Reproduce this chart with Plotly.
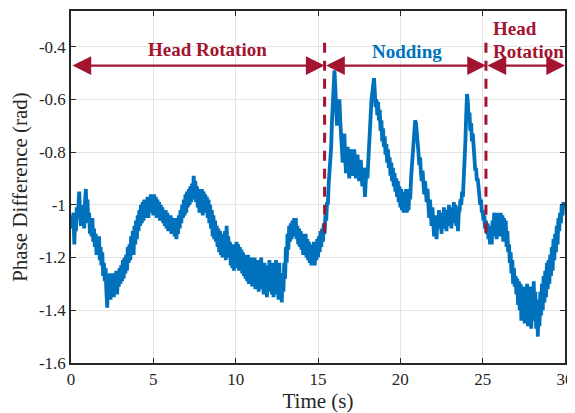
import plotly.graph_objects as go

# Time axis (s), sampled every 0.05 s, 0..30
time_s = [round(i * 0.05, 2) for i in range(601)]

# Phase difference (rad) (one row per second)
phase_rad = [
    -1.07, -1.04, -1.09, -1.03, -1.15, -1.06, -1.10, -1.01, -1.05, -0.97, -0.95, -1.03, -1.08, -1.00, -1.06, -1.02, -1.09, -0.99, -0.94, -1.02,
    -0.98, -1.07, -1.03, -1.11, -1.06, -1.12, -1.05, -1.14, -1.09, -1.16, -1.11, -1.19, -1.13, -1.18, -1.12, -1.21, -1.16, -1.23, -1.18, -1.27,
    -1.22, -1.29, -1.24, -1.33, -1.39, -1.27, -1.34, -1.26, -1.36, -1.28, -1.33, -1.26, -1.35, -1.29, -1.32, -1.25, -1.34, -1.27, -1.31, -1.24,
    -1.30, -1.23, -1.29, -1.21, -1.28, -1.20, -1.26, -1.19, -1.25, -1.16, -1.22, -1.15, -1.21, -1.12, -1.18, -1.10, -1.19, -1.08, -1.15, -1.06,
    -1.13, -1.04, -1.10, -1.02, -1.08, -1.00, -1.07, -0.99, -1.06, -0.98, -1.05, -0.99, -1.04, -0.97, -1.05, -0.98, -1.03, -0.96, -1.02, -0.97,
    -1.04, -0.96, -1.02, -0.97, -1.05, -0.98, -1.04, -0.99, -1.06, -1.00, -1.05, -1.01, -1.07, -1.02, -1.08, -1.02, -1.09, -1.03, -1.10, -1.04,
    -1.09, -1.04, -1.11, -1.05, -1.10, -1.06, -1.12, -1.05, -1.13, -1.06, -1.11, -1.04, -1.09, -1.02, -1.07, -1.00, -1.05, -0.98, -1.04, -0.96,
    -1.03, -0.95, -1.01, -0.94, -1.00, -0.93, -0.99, -0.92, -0.98, -0.89, -0.96, -0.91, -0.99, -0.93, -1.01, -0.94, -1.03, -0.95, -1.02, -0.94,
    -1.04, -0.95, -1.02, -0.96, -1.03, -0.97, -1.05, -0.98, -1.07, -1.00, -1.09, -1.02, -1.12, -1.04, -1.13, -1.06, -1.14, -1.08, -1.16, -1.09,
    -1.18, -1.10, -1.19, -1.11, -1.20, -1.12, -1.19, -1.10, -1.21, -1.08, -1.17, -1.12, -1.20, -1.14, -1.23, -1.15, -1.24, -1.16, -1.25, -1.15,
    -1.24, -1.14, -1.22, -1.15, -1.25, -1.16, -1.24, -1.17, -1.26, -1.18, -1.27, -1.19, -1.28, -1.20, -1.29, -1.19, -1.30, -1.21, -1.29, -1.20,
    -1.31, -1.21, -1.29, -1.20, -1.32, -1.22, -1.30, -1.21, -1.33, -1.22, -1.31, -1.20, -1.32, -1.23, -1.34, -1.22, -1.33, -1.24, -1.35, -1.23,
    -1.33, -1.21, -1.32, -1.23, -1.34, -1.22, -1.35, -1.24, -1.33, -1.21, -1.34, -1.23, -1.36, -1.22, -1.35, -1.27, -1.37, -1.26, -1.33, -1.22,
    -1.28, -1.16, -1.22, -1.11, -1.17, -1.08, -1.14, -1.07, -1.13, -1.06, -1.12, -1.05, -1.11, -1.05, -1.13, -1.08, -1.15, -1.09, -1.16, -1.10,
    -1.17, -1.11, -1.19, -1.12, -1.18, -1.11, -1.20, -1.13, -1.21, -1.14, -1.22, -1.15, -1.23, -1.16, -1.22, -1.14, -1.23, -1.15, -1.21, -1.13,
    -1.20, -1.12, -1.18, -1.10, -1.16, -1.09, -1.14, -1.07, -1.11, -1.04, -1.06, -0.99, -1.00, -0.92, -0.88, -0.80, -0.78, -0.68, -0.60, -0.52,
    -0.49, -0.55, -0.64, -0.70, -0.66, -0.61, -0.60, -0.68, -0.72, -0.78, -0.84, -0.76, -0.73, -0.82, -0.88, -0.80, -0.78, -0.86, -0.90, -0.82,
    -0.79, -0.87, -0.89, -0.81, -0.79, -0.86, -0.90, -0.83, -0.81, -0.88, -0.91, -0.84, -0.83, -0.90, -0.93, -0.86, -0.88, -0.97, -0.93, -0.86,
    -0.90, -0.82, -0.78, -0.70, -0.66, -0.60, -0.56, -0.53, -0.52, -0.57, -0.63, -0.60, -0.66, -0.61, -0.68, -0.64, -0.72, -0.68, -0.76, -0.71,
    -0.78, -0.74, -0.81, -0.77, -0.84, -0.79, -0.86, -0.82, -0.89, -0.84, -0.91, -0.86, -0.93, -0.88, -0.95, -0.90, -0.97, -0.91, -0.99, -0.93,
    -1.01, -0.94, -1.02, -0.95, -1.03, -0.96, -1.02, -0.94, -1.03, -0.95, -1.02, -0.94, -0.98, -0.90, -0.86, -0.80, -0.75, -0.70, -0.68, -0.69,
    -0.72, -0.78, -0.80, -0.85, -0.82, -0.88, -0.91, -0.87, -0.93, -0.96, -0.91, -0.97, -0.99, -0.94, -1.01, -1.05, -0.98, -1.04, -1.08, -1.01,
    -1.06, -1.12, -1.04, -1.10, -1.13, -1.05, -1.09, -1.02, -1.08, -1.03, -1.11, -1.04, -1.09, -1.01, -1.07, -1.03, -1.10, -1.02, -1.08, -1.00,
    -1.06, -1.01, -1.09, -1.02, -1.07, -0.99, -1.05, -1.00, -1.08, -1.01, -1.10, -1.03, -1.02, -0.98, -1.00, -0.95, -0.97, -0.90, -0.85, -0.76,
    -0.66, -0.58, -0.61, -0.68, -0.65, -0.72, -0.69, -0.76, -0.73, -0.80, -0.82, -0.87, -0.86, -0.91, -0.90, -0.95, -0.96, -1.00, -0.98, -1.03,
    -1.02, -1.06, -1.04, -1.09, -1.06, -1.11, -1.07, -1.13, -1.08, -1.15, -1.09, -1.15, -1.06, -1.12, -1.03, -1.10, -1.04, -1.13, -1.03, -1.11,
    -1.05, -1.12, -1.03, -1.10, -1.04, -1.14, -1.05, -1.12, -1.06, -1.16, -1.10, -1.18, -1.15, -1.22, -1.18, -1.26, -1.21, -1.30, -1.24, -1.31,
    -1.27, -1.34, -1.28, -1.38, -1.29, -1.40, -1.30, -1.44, -1.32, -1.42, -1.31, -1.45, -1.33, -1.41, -1.30, -1.46, -1.34, -1.43, -1.31, -1.47,
    -1.35, -1.44, -1.29, -1.42, -1.33, -1.47, -1.36, -1.50, -1.38, -1.46, -1.33, -1.42, -1.30, -1.40, -1.27, -1.37, -1.25, -1.35, -1.22, -1.32,
    -1.21, -1.30, -1.19, -1.27, -1.16, -1.25, -1.13, -1.21, -1.11, -1.18, -1.08, -1.15, -1.05, -1.10, -1.03, -1.07, -1.00, -1.04, -0.99, -1.01,
    -0.99,
]
assert len(phase_rad) == len(time_s)

# Phase boundaries (s) and segments of the arrows
boundaries = [15.4, 25.2]
segments = [(0, 15.4), (15.4, 25.2), (25.2, 30)]

x_ticks = [0, 5, 10, 15, 20, 25, 30]
y_ticks = [-1.6, -1.4, -1.2, -1.0, -0.8, -0.6, -0.4]
y_tick_text = ["-1.6", "-1.4", "-1.2", "-1", "-0.8", "-0.6", "-0.4"]

BLUE = "#0072BD"
RED = "#A2142F"
FONT = "Liberation Serif, Times New Roman, serif"
AX = "#262626"

fig = go.Figure()
fig.add_trace(go.Scatter(x=time_s, y=phase_rad, mode="lines",
                         line=dict(color=BLUE, width=3.8), showlegend=False))

arrow_y = -0.472
for (a, b) in segments:
    fig.add_annotation(x=b, y=arrow_y, ax=a, ay=arrow_y, xref="x", yref="y",
                       axref="x", ayref="y", text="", showarrow=True,
                       arrowhead=2, arrowside="end+start", arrowsize=1.7,
                       arrowwidth=2.2, arrowcolor=RED, standoff=0, startstandoff=0)

for bx in boundaries:
    fig.add_shape(type="line", x0=bx, x1=bx, y0=-1.106, y1=-0.371, xref="x", yref="y",
                  line=dict(color=RED, width=3, dash="10px,8px"), layer="above")

fig.add_annotation(x=8.3, y=-0.412, text="<b>Head Rotation</b>", showarrow=False,
                   font=dict(family=FONT, size=19, color=RED))
fig.add_annotation(x=20.4, y=-0.42, text="<b>Nodding</b>", showarrow=False,
                   font=dict(family=FONT, size=19, color=BLUE))
fig.add_annotation(x=25.5, y=-0.333, text="<b>Head</b>", showarrow=False,
                   xanchor="left", font=dict(family=FONT, size=19, color=RED))
fig.add_annotation(x=25.5, y=-0.42, text="<b>Rotation</b>", showarrow=False,
                   xanchor="left", font=dict(family=FONT, size=19, color=RED))

axis_common = dict(showline=True, linecolor=AX, linewidth=1.5, mirror="ticks",
                   ticks="inside", ticklen=5, tickcolor=AX, tickwidth=1,
                   showgrid=True, gridcolor="#e3e3e3", gridwidth=1, zeroline=False,
                   tickfont=dict(family=FONT, size=17, color=AX))

fig.update_xaxes(range=[0, 30], tickvals=x_ticks, ticktext=[str(v) for v in x_ticks],
                 title=dict(text="Time (s)", font=dict(family=FONT, size=21, color=AX), standoff=1),
                 **axis_common)
fig.update_yaxes(range=[-1.6, -0.265], tickvals=y_ticks, ticktext=y_tick_text,
                 title=dict(text="Phase Difference (rad)", font=dict(family=FONT, size=21, color=AX), standoff=6),
                 **axis_common)

# page body has an 8 px margin, so the figure is sized to the remaining area
fig.update_layout(width=567, height=405, margin=dict(l=63, r=9, t=1, b=50),
                  plot_bgcolor="white", paper_bgcolor="white")

fig.write_html("out.html")
